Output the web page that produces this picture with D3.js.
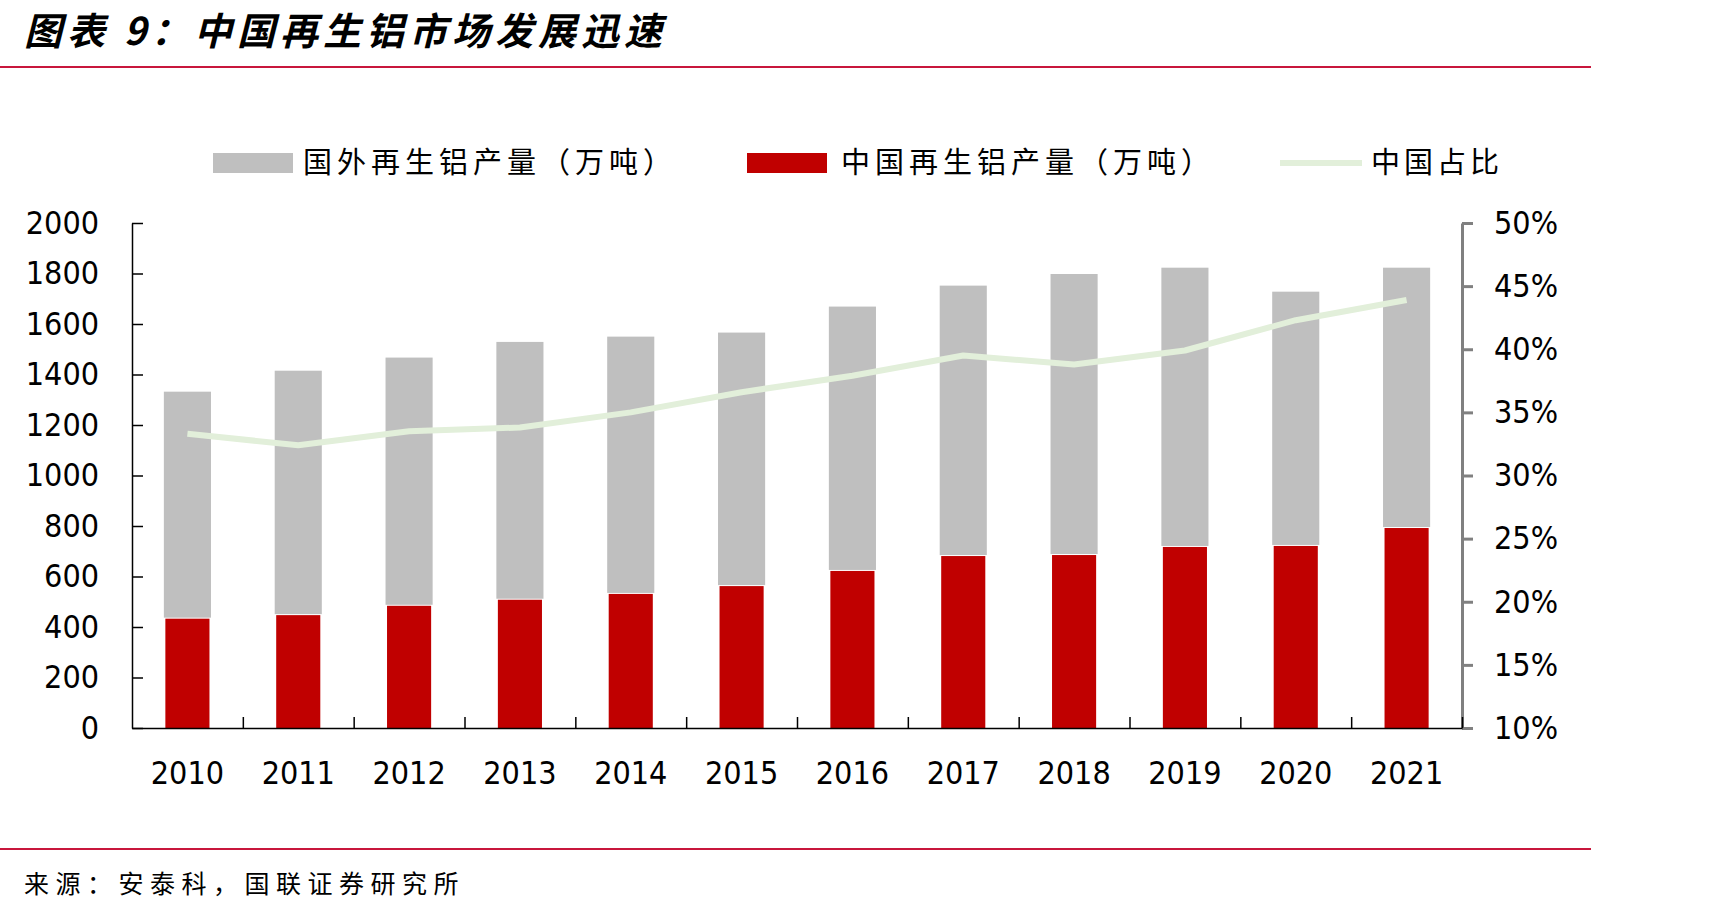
<!DOCTYPE html>
<html>
<head>
<meta charset="utf-8">
<script src="https://cdn.jsdelivr.net/npm/d3@7"></script>
<style>
  body { margin: 0; background: #fff; }
  svg { display: block; }
  .num { font-family: "DejaVu Sans Condensed", "DejaVu Sans", sans-serif; font-size: 32px; fill: #000; }
  .cjk { font-family: "Noto Sans CJK SC", sans-serif; }
</style>
</head>
<body>
<div id="chart"></div>
<script>
// values
const years = ["2010", "2011", "2012", "2013", "2014", "2015", "2016", "2017", "2018", "2019", "2020", "2021"];
const chinaOutput = [433, 447, 484, 508, 531, 562, 622, 681, 685, 717, 721, 792];
const foreignOutput = [899, 968, 983, 1021, 1019, 1004, 1047, 1071, 1113, 1106, 1007, 1031];
const chinaShare = [0.333, 0.324, 0.335, 0.338, 0.350, 0.366, 0.379, 0.395, 0.388, 0.399, 0.423, 0.439];
const leftTicks = [0, 200, 400, 600, 800, 1000, 1200, 1400, 1600, 1800, 2000];
const rightTicks = [0.10, 0.15, 0.20, 0.25, 0.30, 0.35, 0.40, 0.45, 0.50];
const seriesNames = ["国外再生铝产量（万吨）", "中国再生铝产量（万吨）", "中国占比"];

const W = 1725, H = 915;
const plot = { left: 132, right: 1462, top: 223, bottom: 728 };

const svg = d3.select("#chart").append("svg")
    .attr("width", W)
    .attr("height", H);

// title + rules
svg.append("text")
    .attr("class", "cjk")
    .attr("x", 24)
    .attr("y", 28)
    .attr("dominant-baseline", "central")
    .style("font-size", "38px")
    .style("font-weight", "bold")
    .style("font-style", "italic")
    .style("letter-spacing", "5px")
    .text("图表 9：中国再生铝市场发展迅速");

svg.append("line")
    .attr("x1", 0).attr("x2", 1591)
    .attr("y1", 67).attr("y2", 67)
    .attr("stroke", "#C8163C").attr("stroke-width", 2);

svg.append("line")
    .attr("x1", 0).attr("x2", 1591)
    .attr("y1", 849).attr("y2", 849)
    .attr("stroke", "#C8163C").attr("stroke-width", 2);

svg.append("text")
    .attr("class", "cjk")
    .attr("x", 24)
    .attr("y", 882)
    .attr("dominant-baseline", "central")
    .style("font-size", "25px")
    .style("letter-spacing", "6.5px")
    .text("来源：安泰科，国联证券研究所");

// scales
const x = d3.scaleBand()
    .domain(years)
    .range([plot.left, plot.right])
    .paddingInner(0.575)
    .paddingOuter(0.2875);

const y = d3.scaleLinear().domain([0, 2000]).range([plot.bottom, plot.top]);
const y2 = d3.scaleLinear().domain([0.10, 0.50]).range([plot.bottom, plot.top]);

// bars: china at the bottom, foreign stacked on top
const rows = years.map((yr, i) => ({ year: yr, china: chinaOutput[i], foreign: foreignOutput[i], share: chinaShare[i] }));

svg.selectAll(".bar-foreign")
    .data(rows)
    .enter()
    .append("rect")
    .attr("class", "bar-foreign")
    .attr("x", d => x(d.year))
    .attr("y", d => y(d.china + d.foreign))
    .attr("width", x.bandwidth())
    .attr("height", d => y(d.china) - y(d.china + d.foreign) - 1)
    .attr("fill", "#BFBFBF");

svg.selectAll(".bar-china")
    .data(rows)
    .enter()
    .append("rect")
    .attr("class", "bar-china")
    .attr("x", d => x(d.year) + 1.5)
    .attr("y", d => y(d.china))
    .attr("width", x.bandwidth() - 3)
    .attr("height", d => y(0) - y(d.china))
    .attr("fill", "#C00000");

// left axis
const leftAxis = svg.append("g")
    .attr("transform", `translate(${plot.left},0)`)
    .call(d3.axisLeft(y).tickValues(leftTicks).tickSizeInner(-11).tickSizeOuter(0).tickPadding(33)
        .tickFormat(d => String(d)));
leftAxis.selectAll("text").attr("class", "num").attr("fill", "#000");
leftAxis.selectAll("line, path").attr("stroke", "#000").attr("stroke-width", 1.5);

// right axis
const rightAxis = svg.append("g")
    .attr("transform", `translate(${plot.right},0)`)
    .call(d3.axisRight(y2).tickValues(rightTicks).tickSizeInner(11).tickSizeOuter(0).tickPadding(21)
        .tickFormat(d3.format(".0%")));
rightAxis.selectAll("text").attr("class", "num").attr("fill", "#000");
rightAxis.selectAll("line, path").attr("stroke", "#808080").attr("stroke-width", 3);

// bottom axis: ticks between categories, labels centred under bars
const xEdge = d3.scaleLinear().domain([0, years.length]).range([plot.left, plot.right]);
const bottomAxis = svg.append("g")
    .attr("transform", `translate(0,${plot.bottom})`)
    .call(d3.axisBottom(xEdge).tickValues(d3.range(1, years.length + 1)).tickSizeInner(-11).tickSizeOuter(0).tickFormat(""));
bottomAxis.selectAll("line, path").attr("stroke", "#000").attr("stroke-width", 1.5);

const labelAxis = svg.append("g")
    .attr("transform", `translate(0,${plot.bottom})`)
    .call(d3.axisBottom(x).tickSize(0).tickPadding(33));
labelAxis.select(".domain").remove();
labelAxis.selectAll("text").attr("class", "num").attr("fill", "#000");

// share line
const line = d3.line()
    .x(d => x(d.year) + x.bandwidth() / 2)
    .y(d => y2(d.share));

svg.append("path")
    .datum(rows)
    .attr("fill", "none")
    .attr("stroke", "#E2EFDA")
    .attr("stroke-width", 6)
    .attr("stroke-linejoin", "round")
    .attr("d", line);

// legend
const legend = svg.append("g").attr("class", "cjk");
const legendY = 163;

legend.append("rect")
    .attr("x", 213).attr("y", 153).attr("width", 80).attr("height", 20)
    .attr("fill", "#BFBFBF");
legend.append("rect")
    .attr("x", 747).attr("y", 153).attr("width", 80).attr("height", 20)
    .attr("fill", "#C00000");
legend.append("line")
    .attr("x1", 1280).attr("x2", 1362)
    .attr("y1", legendY).attr("y2", legendY)
    .attr("stroke", "#E2EFDA").attr("stroke-width", 6);

legend.selectAll("text")
    .data(seriesNames)
    .enter()
    .append("text")
    .attr("x", (d, i) => [303, 841, 1371][i])
    .attr("y", legendY - 3)
    .attr("dominant-baseline", "central")
    .style("font-size", "29px")
    .style("letter-spacing", (d, i) => i < 2 ? "5px" : "4px")
    .text(d => d);
</script>
</body>
</html>
